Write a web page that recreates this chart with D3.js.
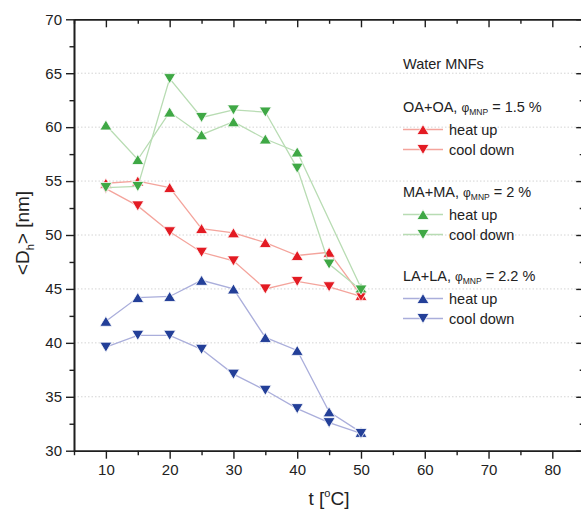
<!DOCTYPE html>
<html>
<head>
<meta charset="utf-8">
<script src="https://cdn.jsdelivr.net/npm/d3@7/dist/d3.min.js"></script>
<style>
  html, body { margin: 0; padding: 0; background: #fff; }
  svg { display: block; font-family: "Liberation Sans", Arial, sans-serif; }
</style>
</head>
<body>
<svg id="chart" width="581" height="510"></svg>
<script>
// Temperatures of the measurement points (°C)
const temps = [10, 15, 20, 25, 30, 35, 40, 45, 50];

// Mean hydrodynamic diameter <D_h> (nm); null = no measurement
const oaHeat = [54.8, 55.0, 54.4, 50.6, 50.2, 49.3, 48.1, 48.4, 44.4];
const oaCool = [54.3, 52.7, 50.3, 48.4, 47.6, 45.0, 45.7, 45.2, 44.3];
const maHeat = [60.2, 57.0, 61.4, 59.3, 60.5, 58.9, 57.7, null, 45.1];
const maCool = [54.4, 54.5, 64.5, 60.9, 61.6, 61.4, 56.2, 47.3, 44.9];
const laHeat = [42.0, 44.2, 44.3, 45.8, 45.0, 40.5, 39.3, 33.6, 31.7];
const laCool = [39.6, 40.7, 40.7, 39.4, 37.1, 35.6, 33.9, 32.6, 31.6];

// Axis ticks
const xMajorTicks = [10, 20, 30, 40, 50, 60, 70, 80];
const xMinorTicks = [5, 15, 25, 35, 45, 55, 65, 75, 85];
const yMajorTicks = [30, 35, 40, 45, 50, 55, 60, 65, 70];
const yMinorTicks = [32.5, 37.5, 42.5, 47.5, 52.5, 57.5, 62.5, 67.5];
const gridValues = [35, 40, 45, 50, 55, 60, 65];

// Legend groups
const legendTitle = "Water MNFs";
const groups = [
  { name: "OA+OA", phi: "1.5 %", heat: oaHeat, cool: oaCool, mark: "#e31b23", line: "#f4a49c" },
  { name: "MA+MA", phi: "2 %",   heat: maHeat, cool: maCool, mark: "#3fa845", line: "#b8dcb3" },
  { name: "LA+LA", phi: "2.2 %", heat: laHeat, cool: laCool, mark: "#233f98", line: "#aaaedb" }
];
const runLabels = ["heat up", "cool down"];

const svg = d3.select("#chart");
const x = d3.scaleLinear().domain([5, 85]).range([74, 584.2]);
const y = d3.scaleLinear().domain([30, 70]).range([450.7, 19.3]);

const axisColor = "#1e1e1e";
const textColor = "#222";

// Dotted horizontal grid
svg.append("g").selectAll("line").data(gridValues).join("line")
  .attr("x1", x(5)).attr("x2", x(85))
  .attr("y1", d => y(d)).attr("y2", d => y(d))
  .attr("stroke", "#d4d4d4").attr("stroke-width", 1)
  .attr("stroke-dasharray", "1.5,2");

// Triangle markers
function triPath(up) {
  const w = 6, h = 5;
  return up ? `M0,${-h}L${w},${h}L${-w},${h}Z` : `M0,${h}L${w},${-h}L${-w},${-h}Z`;
}

const line = d3.line().x(d => x(d[0])).y(d => y(d[1]));

function pairs(vals) {
  return temps.map((t, i) => [t, vals[i]]).filter(d => d[1] != null);
}

const plot = svg.append("g");
groups.forEach(g => {
  [[g.heat, true], [g.cool, false]].forEach(([vals, up]) => {
    const pts = pairs(vals);
    plot.append("path").datum(pts)
      .attr("d", line).attr("fill", "none")
      .attr("stroke", g.line).attr("stroke-width", 1.3);
    plot.append("g").selectAll("path").data(pts).join("path")
      .attr("transform", d => `translate(${x(d[0])},${y(d[1])})`)
      .attr("d", triPath(up))
      .attr("fill", g.mark).attr("stroke", "#fff").attr("stroke-width", 0.8);
  });
});

// Axes: bottom/left ticks outward, top/right ticks inward
const ax = svg.append("g");
ax.append("g").attr("transform", `translate(0,${y(30)})`)
  .call(d3.axisBottom(x).tickValues(xMajorTicks).tickSize(8).tickSizeOuter(0).tickPadding(6));
ax.append("g").attr("transform", `translate(0,${y(30)})`)
  .call(d3.axisBottom(x).tickValues(xMinorTicks).tickSize(4.5).tickSizeOuter(0).tickFormat(""));
ax.append("g").attr("transform", `translate(${x(5)},0)`)
  .call(d3.axisLeft(y).tickValues(yMajorTicks).tickSize(8).tickSizeOuter(0).tickPadding(4));
ax.append("g").attr("transform", `translate(${x(5)},0)`)
  .call(d3.axisLeft(y).tickValues(yMinorTicks).tickSize(4.5).tickSizeOuter(0).tickFormat(""));
ax.append("g").attr("transform", `translate(0,${y(70)})`)
  .call(d3.axisTop(x).tickValues(xMajorTicks).tickSize(-8).tickSizeOuter(0).tickFormat(""));
ax.append("g").attr("transform", `translate(0,${y(70)})`)
  .call(d3.axisTop(x).tickValues(xMinorTicks).tickSize(-4.5).tickSizeOuter(0).tickFormat(""));
ax.append("g").attr("transform", `translate(${x(85)},0)`)
  .call(d3.axisRight(y).tickValues(yMajorTicks).tickSize(-8).tickSizeOuter(0).tickFormat(""));
ax.append("g").attr("transform", `translate(${x(85)},0)`)
  .call(d3.axisRight(y).tickValues(yMinorTicks).tickSize(-4.5).tickSizeOuter(0).tickFormat(""));

ax.selectAll(".domain").attr("stroke", axisColor).attr("stroke-width", 1.6);
ax.selectAll(".tick line").attr("stroke", axisColor).attr("stroke-width", 1.4);
ax.selectAll(".tick text").attr("fill", textColor).attr("font-size", 15)
  .attr("font-family", "Liberation Sans, Arial, sans-serif");

// Axis titles
const xt = svg.append("text").attr("x", 329).attr("y", 505)
  .attr("text-anchor", "middle").attr("font-size", 19).attr("fill", textColor);
xt.append("tspan").text("t [");
xt.append("tspan").attr("font-size", 11).attr("dy", -8).text("o");
xt.append("tspan").attr("dy", 8).text("C]");

const yt = svg.append("text").attr("transform", "translate(29,233) rotate(-90)")
  .attr("text-anchor", "middle").attr("font-size", 19).attr("fill", textColor);
yt.append("tspan").text("<D");
yt.append("tspan").attr("font-size", 11).attr("dy", 5).text("h");
yt.append("tspan").attr("dy", -5).text("> [nm]");

// Legend
const lg = svg.append("g").attr("font-size", 14.5).attr("fill", textColor);
lg.append("text").attr("x", 403).attr("y", 69).text(legendTitle);
const headY = [112, 197, 281];
groups.forEach((g, i) => {
  const hy = headY[i];
  const t = lg.append("text").attr("x", 403).attr("y", hy);
  t.append("tspan").text(g.name + ", ");
  t.append("tspan").attr("font-size", 12).text("φ");
  t.append("tspan").attr("font-size", 8.5).attr("dy", 3).text("MNP");
  t.append("tspan").attr("dy", -3).text(" = " + g.phi);
  runLabels.forEach((lab, j) => {
    const ry = hy + 17.5 + j * 20;
    lg.append("line").attr("x1", 403).attr("x2", 443).attr("y1", ry).attr("y2", ry)
      .attr("stroke", g.line).attr("stroke-width", 1.3);
    lg.append("path").attr("transform", `translate(423,${ry})`)
      .attr("d", triPath(j === 0)).attr("fill", g.mark)
      .attr("stroke", "#fff").attr("stroke-width", 0.8);
    lg.append("text").attr("x", 449).attr("y", ry + 5).text(lab);
  });
});
</script>
</body>
</html>
